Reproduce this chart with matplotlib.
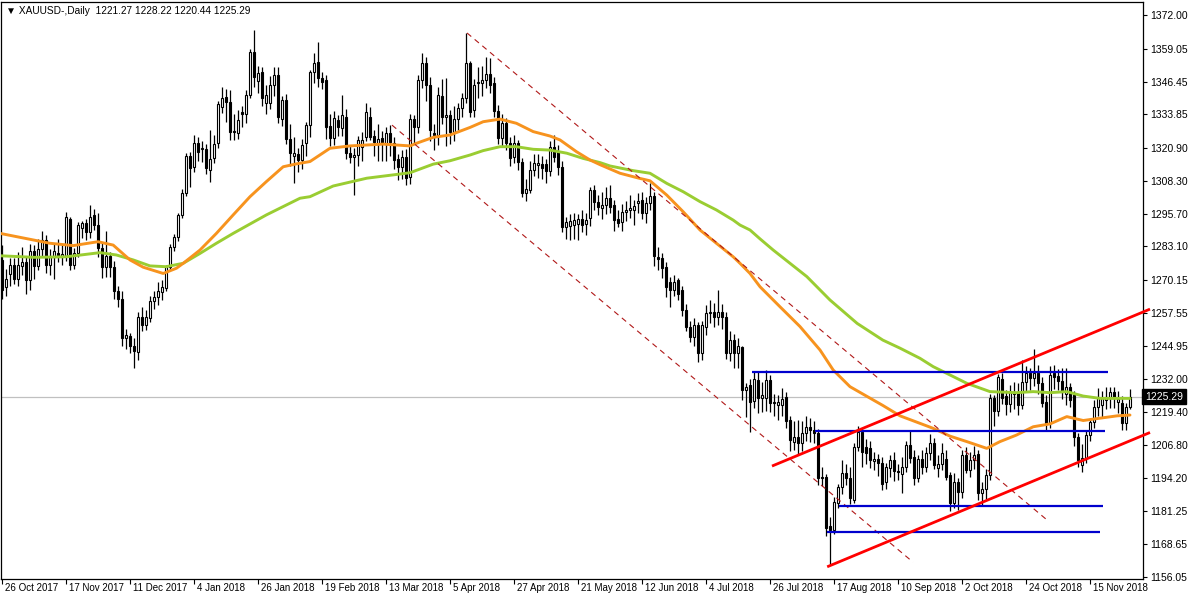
import matplotlib
matplotlib.use("Agg")
import matplotlib.pyplot as plt
import numpy as np

# ---------------- data ----------------
opens = [
1278.0,1267.5,1272.5,1276.0,1270.5,1275.5,1277.0,1270.0,1281.5,1275.5,
1282.0,1285.5,1276.0,1279.0,1280.5,1279.0,1279.0,1293.5,1276.0,1280.5,
1290.0,1292.0,1288.5,1295.0,1291.5,1282.5,1275.0,1279.5,1275.0,1266.0,
1263.0,1248.0,1248.5,1245.0,1242.5,1256.0,1253.0,1255.5,1262.0,1263.5,
1265.5,1267.0,1275.3,1283.0,1286.8,1295.2,1303.5,1317.8,1313.7,1322.9,
1320.6,1320.4,1312.5,1317.0,1322.7,1336.8,1340.4,1338.7,1327.6,1326.8,
1334.6,1333.8,1341.3,1357.9,1346.8,1350.2,1338.1,1338.1,1345.1,1349.0,
1331.9,1339.3,1324.2,1317.8,1318.6,1316.3,1322.7,1329.7,1350.2,1354.0,
1347.7,1347.0,1329.4,1324.6,1331.7,1328.5,1332.7,1318.9,1317.6,1318.2,
1321.4,1325.3,1333.0,1325.5,1322.5,1324.6,1322.5,1326.5,1322.9,1316.5,
1313.7,1317.3,1309.9,1331.9,1328.8,1347.0,1353.4,1345.1,1326.5,1325.9,
1340.9,1333.0,1333.6,1327.2,1332.0,1336.1,1340.0,1353.4,1335.5,1345.7,
1345.7,1347.2,1349.3,1345.7,1335.2,1324.6,1330.4,1322.9,1317.3,1322.9,
1315.7,1303.8,1304.8,1312.5,1314.4,1314.8,1314.8,1312.2,1321.4,1319.5,
1313.7,1290.7,1291.0,1291.3,1291.7,1293.5,1291.7,1293.9,1304.8,1300.3,
1297.7,1299.0,1301.6,1299.0,1293.8,1292.6,1296.4,1297.1,1297.1,1299.7,
1300.9,1295.8,1299.9,1302.5,1278.9,1278.5,1275.3,1269.5,1266.2,1270.0,
1266.3,1258.7,1252.3,1248.1,1252.9,1242.0,1252.3,1257.4,1258.0,1256.1,
1258.0,1256.1,1242.0,1247.1,1242.0,1244.5,1227.9,1229.8,1223.8,1231.8,
1224.7,1225.0,1231.8,1223.4,1222.2,1222.2,1225.1,1216.4,1208.1,1210.0,
1207.5,1211.5,1213.8,1212.6,1211.3,1194.3,1194.6,1175.5,1174.1,1184.4,
1190.8,1196.1,1194.3,1185.7,1206.1,1211.9,1206.0,1205.5,1200.8,1201.3,
1199.8,1192.5,1198.0,1201.0,1196.8,1195.7,1198.5,1206.8,1202.3,1194.0,
1201.5,1198.5,1203.6,1207.4,1198.0,1199.5,1201.3,1195.3,1184.5,1192.5,
1188.9,1203.0,1197.2,1201.0,1203.3,1188.2,1189.8,1195.3,1224.7,1220.0,
1232.0,1225.5,1222.5,1226.5,1227.0,1222.2,1231.1,1234.3,1232.4,1234.6,
1230.5,1223.5,1215.1,1234.3,1233.3,1231.5,1226.5,1229.0,1226.0,1210.0,
1199.0,1201.7,1210.6,1215.8,1221.5,1222.0,1224.0,1225.4,1227.3,1223.5,
1222.8,1215.1,1221.27]
highs = [
1283.5,1274.5,1278.5,1278.5,1281.0,1283.0,1279.5,1284.0,1283.5,1286.0,
1289.0,1287.5,1282.0,1284.0,1286.0,1284.0,1296.5,1294.5,1282.5,1292.5,
1293.0,1293.5,1299.0,1297.5,1296.0,1284.5,1289.0,1281.0,1277.5,1268.0,
1266.0,1251.5,1250.0,1248.0,1258.0,1260.0,1258.5,1264.0,1266.0,1269.5,
1270.0,1276.0,1284.0,1288.0,1296.0,1305.0,1318.9,1319.5,1325.9,1325.0,
1323.5,1322.5,1327.8,1326.0,1339.0,1344.5,1343.5,1343.0,1334.0,1335.5,
1337.0,1343.0,1359.0,1366.2,1352.5,1352.0,1345.0,1348.5,1352.0,1352.0,
1341.0,1341.5,1330.0,1325.0,1321.0,1324.5,1331.0,1351.0,1357.3,1361.8,
1350.0,1349.0,1334.0,1335.0,1333.5,1341.3,1336.0,1321.5,1321.0,1325.5,
1327.0,1338.0,1336.5,1328.0,1330.0,1327.5,1329.0,1329.7,1325.0,1318.5,
1320.0,1320.5,1334.0,1333.5,1349.0,1357.3,1356.0,1348.0,1330.0,1344.5,
1347.5,1347.7,1335.5,1337.0,1338.0,1342.0,1365.2,1354.5,1347.5,1352.0,
1352.5,1356.0,1355.5,1348.0,1337.5,1334.0,1332.5,1325.0,1326.0,1324.0,
1317.0,1309.0,1316.0,1318.5,1318.5,1318.0,1316.5,1323.5,1325.9,1322.0,
1316.0,1294.5,1295.5,1296.0,1295.5,1297.0,1296.0,1306.0,1306.5,1303.0,
1304.0,1306.0,1306.7,1301.0,1297.0,1299.5,1300.5,1303.0,1301.0,1303.5,
1304.0,1302.0,1307.3,1304.0,1283.0,1280.5,1277.0,1271.5,1272.0,1271.0,
1268.0,1261.0,1254.5,1255.5,1254.0,1254.5,1260.5,1262.5,1261.5,1266.3,
1261.0,1258.0,1250.5,1249.5,1248.0,1245.0,1230.5,1232.0,1235.0,1235.0,
1231.0,1235.6,1233.5,1226.5,1226.0,1228.6,1227.0,1218.0,1216.0,1216.5,
1216.0,1218.0,1217.0,1216.0,1213.0,1198.5,1195.5,1179.0,1187.0,1192.0,
1201.0,1199.5,1198.5,1207.5,1214.0,1213.5,1209.0,1208.5,1204.0,1203.5,
1202.0,1200.0,1203.0,1204.0,1199.5,1202.0,1208.5,1212.6,1205.0,1203.0,
1205.0,1206.0,1211.0,1209.5,1203.0,1207.5,1205.0,1196.5,1196.0,1194.0,
1205.0,1206.0,1204.0,1206.5,1205.0,1192.5,1197.5,1226.5,1226.0,1234.0,
1234.5,1228.0,1230.0,1231.0,1230.5,1239.5,1237.0,1236.5,1243.6,1237.5,
1233.0,1226.0,1237.0,1237.5,1236.0,1236.5,1236.3,1230.5,1227.5,1211.5,
1207.0,1212.0,1217.0,1224.0,1228.6,1227.5,1229.0,1229.2,1229.0,1227.5,
1225.5,1223.0,1228.22]
lows = [
1263.0,1264.0,1268.0,1268.5,1268.0,1272.0,1265.0,1266.5,1270.5,1274.0,
1279.0,1273.0,1272.0,1270.5,1277.0,1276.0,1277.5,1274.0,1274.5,1279.0,
1286.5,1285.5,1286.5,1289.5,1279.0,1271.0,1271.5,1271.5,1263.0,1260.0,
1245.0,1243.5,1242.0,1236.5,1239.5,1250.5,1251.0,1254.0,1259.0,1260.5,
1262.5,1266.0,1274.0,1281.5,1285.0,1294.0,1302.5,1306.1,1311.5,1316.0,
1315.5,1311.0,1308.0,1315.0,1321.0,1334.5,1331.0,1324.0,1324.0,1324.5,
1329.0,1330.5,1340.0,1344.5,1342.0,1337.0,1334.0,1336.0,1341.0,1330.5,
1329.5,1322.5,1314.0,1307.3,1311.5,1313.0,1318.0,1325.0,1346.0,1344.5,
1343.5,1324.5,1321.5,1322.0,1325.5,1325.5,1316.5,1315.0,1302.8,1314.0,
1316.0,1323.5,1324.0,1318.0,1316.0,1316.0,1316.0,1318.0,1313.0,1308.5,
1309.0,1306.5,1307.0,1323.0,1326.5,1344.0,1339.0,1323.5,1320.0,1322.0,
1330.0,1321.5,1322.5,1323.5,1328.0,1333.0,1338.0,1333.0,1333.0,1340.0,
1341.0,1344.0,1342.0,1333.0,1322.5,1321.5,1320.0,1314.0,1315.0,1312.5,
1302.0,1300.5,1303.5,1310.0,1309.5,1308.8,1307.5,1310.0,1315.5,1310.5,
1288.5,1286.0,1285.5,1286.0,1285.5,1288.5,1287.5,1291.0,1297.0,1295.0,
1293.5,1295.5,1296.0,1289.0,1290.5,1289.0,1293.0,1294.0,1291.5,1296.0,
1293.5,1292.0,1297.0,1275.5,1274.0,1271.0,1263.5,1260.0,1264.0,1262.5,
1256.5,1250.5,1246.5,1245.0,1238.5,1239.5,1249.0,1253.5,1252.0,1253.0,
1251.5,1240.0,1239.0,1236.5,1236.5,1224.0,1217.5,1211.9,1221.0,1219.0,
1219.5,1220.0,1219.5,1218.0,1216.5,1218.0,1213.5,1204.5,1205.0,1203.5,
1204.5,1208.5,1208.0,1207.5,1191.5,1191.0,1172.0,1161.0,1172.5,1182.5,
1188.0,1191.5,1184.0,1184.5,1204.5,1198.5,1199.5,1198.0,1197.0,1195.0,
1189.5,1190.0,1194.5,1193.0,1193.5,1188.3,1196.5,1200.0,1191.5,1192.5,
1195.5,1196.5,1201.0,1197.5,1194.5,1197.0,1193.5,1181.5,1182.5,1182.0,
1186.5,1196.0,1194.5,1197.5,1185.5,1183.5,1186.0,1193.5,1214.0,1218.0,
1222.5,1218.5,1219.5,1220.5,1218.5,1220.5,1227.5,1228.0,1229.5,1226.5,
1221.5,1212.0,1213.5,1228.5,1228.0,1224.5,1222.0,1221.5,1206.5,1198.5,
1196.6,1200.0,1208.5,1213.5,1218.0,1217.0,1220.5,1221.0,1221.0,1219.0,
1212.5,1212.5,1220.44]
closes = [
1266.3,1270.5,1276.0,1270.5,1276.0,1277.0,1270.0,1281.5,1275.5,1282.0,
1285.5,1276.0,1279.0,1281.5,1279.5,1280.0,1294.5,1276.0,1280.5,1291.5,
1292.0,1288.5,1294.5,1291.5,1282.5,1275.0,1279.5,1275.0,1266.0,1263.0,
1248.0,1249.0,1245.0,1243.0,1256.0,1253.0,1256.0,1262.0,1263.5,1265.8,
1267.6,1275.3,1283.0,1286.8,1295.2,1303.5,1317.8,1313.1,1322.7,1319.5,
1320.9,1313.1,1316.5,1322.4,1337.8,1340.0,1338.4,1327.2,1327.0,1331.7,
1333.8,1341.3,1357.9,1348.3,1349.9,1340.0,1341.3,1345.1,1349.0,1332.9,
1339.3,1324.2,1318.9,1319.1,1316.1,1322.0,1329.7,1350.2,1353.4,1347.7,
1346.4,1329.1,1324.6,1332.3,1329.1,1333.6,1318.9,1317.6,1318.2,1324.0,
1324.0,1334.9,1325.3,1323.3,1324.5,1322.9,1326.5,1323.3,1316.3,1313.7,
1317.3,1309.2,1331.9,1329.1,1347.0,1353.4,1345.1,1327.8,1325.9,1341.3,
1333.0,1333.6,1327.2,1332.0,1336.1,1340.0,1353.4,1334.9,1345.1,1346.4,
1347.2,1349.3,1345.1,1335.2,1324.6,1330.4,1322.9,1316.9,1322.9,1315.7,
1303.8,1305.0,1312.5,1315.0,1315.0,1313.1,1312.2,1321.4,1317.6,1313.7,
1290.7,1292.6,1292.8,1293.2,1293.5,1291.5,1293.2,1304.8,1300.3,1298.1,
1299.0,1301.6,1298.4,1293.2,1292.0,1296.4,1297.1,1297.7,1298.6,1300.7,
1295.8,1299.9,1302.5,1279.4,1278.1,1274.7,1267.6,1266.3,1269.3,1265.0,
1258.7,1252.3,1248.4,1252.9,1242.0,1252.9,1257.4,1258.0,1256.1,1258.0,
1256.1,1242.0,1247.1,1242.0,1245.0,1227.9,1229.2,1223.4,1232.0,1224.7,
1226.0,1231.8,1222.8,1223.0,1223.4,1224.3,1216.1,1208.7,1210.0,1207.5,
1211.5,1213.8,1212.5,1211.5,1194.0,1194.0,1174.8,1174.2,1185.0,1190.8,
1195.9,1194.3,1186.3,1206.1,1211.9,1204.0,1203.6,1201.0,1201.3,1199.8,
1191.8,1198.5,1201.0,1196.8,1196.3,1198.5,1206.8,1201.7,1194.0,1201.5,
1198.5,1203.6,1207.4,1199.3,1199.5,1203.6,1194.6,1184.5,1192.5,1188.9,
1203.0,1197.2,1201.0,1203.0,1188.2,1189.8,1195.3,1224.7,1220.0,1233.1,
1225.0,1222.5,1227.3,1227.0,1222.2,1231.1,1234.3,1232.4,1234.3,1230.5,
1223.1,1215.1,1233.7,1233.0,1231.5,1227.0,1229.0,1224.0,1210.0,1201.0,
1201.7,1210.6,1215.8,1221.5,1224.7,1224.7,1225.4,1227.3,1224.7,1224.5,
1215.1,1221.3,1225.29]

# moving averages (bar index, price)
ma_orange_idx = [-0.5, 12, 17.8, 24, 27.8, 32, 35.3, 40.3, 43.6, 45.3, 49.5, 53.6, 57.8, 62,
                 66.1, 70.3, 73.6, 77, 82, 87, 95.3, 102, 103.6, 107.8, 112, 117, 120.3,
                 124.5, 128.6, 132.8, 137, 139.5, 143.6, 147, 149.5, 154.5, 159.5, 162,
                 166.2, 170.3, 174.5, 178.6, 182.8, 184.5, 187, 189.5, 194.5, 199.5, 204.5,
                 207.8, 212, 217.8, 220.2, 224.5, 232.8, 237, 241.2, 246.2, 249.5, 253.6,
                 257.8, 262, 266.2, 270.3, 274.5, 278.8, 282]
ma_orange_val = [1288.1, 1284.3, 1283.4, 1284.9, 1283.6, 1277.9, 1275.1, 1272.7, 1274.7, 1276.6,
                 1281.7, 1288.1, 1295.2, 1302.2, 1308.0, 1313.7, 1314.8, 1315.7, 1320.8, 1321.7,
                 1322.4, 1321.7, 1322.7, 1325.0, 1325.9, 1328.8, 1331.0, 1332.0, 1330.4, 1327.2,
                 1325.5, 1324.0, 1319.5, 1316.3, 1314.5, 1311.2, 1309.2, 1308.3, 1302.8, 1296.4,
                 1289.4, 1284.3, 1279.1, 1276.6, 1272.7, 1267.6, 1259.9, 1252.3, 1243.3, 1235.6,
                 1229.2, 1224.1, 1222.0, 1218.0, 1213.2, 1210.2, 1208.1, 1205.5, 1208.1, 1210.6,
                 1213.8, 1214.9, 1217.7, 1216.2, 1217.1, 1218.0, 1218.3]
ma_green_idx = [-0.5, 8, 16, 24.5, 28.6, 32.8, 37, 41, 45.3, 49.5, 53.6, 57.8, 62, 66.1, 70.3,
                74.5, 77, 82.8, 91.2, 99.5, 102, 107.8, 112, 117, 120.3, 124.5, 128.6, 132.8,
                137, 141.2, 145.3, 149.5, 152, 157.8, 162, 166.2, 170.3, 174.5, 178.6, 182.8,
                184.5, 187, 189.5, 192.8, 201.2, 207, 213.8, 220.2, 224.5, 229.5, 232.8, 241.2,
                247, 253.6, 257.8, 262, 266.2, 270.3, 274.5, 282]
ma_green_val = [1279.5, 1278.9, 1279.1, 1280.7, 1279.8, 1277.9, 1275.6, 1275.3, 1276.6, 1280.4,
                1284.3, 1288.1, 1291.7, 1295.2, 1298.4, 1301.6, 1302.2, 1306.3, 1309.3, 1310.9,
                1311.4, 1314.7, 1316.0, 1318.2, 1319.9, 1321.4, 1321.4, 1320.4, 1320.1, 1318.9,
                1316.9, 1315.3, 1314.0, 1312.2, 1311.2, 1307.3, 1304.1, 1300.3, 1297.1, 1293.2,
                1291.3, 1289.4, 1286.0, 1281.7, 1271.5, 1262.5, 1253.5, 1247.1, 1244.0, 1240.1,
                1236.9, 1230.5, 1227.3, 1226.9, 1227.3, 1226.9, 1227.3, 1225.6, 1224.7, 1224.7]

# horizontal levels (price, start bar, end bar)
level_prices = [1235.0, 1212.3, 1183.5, 1173.5]
level_starts = [187.5, 203.25, 209.25, 206.25]
level_ends = [276.5, 275.75, 275.25, 274.5]
# rising channel (red) : two parallel lines
up_line_x = [192.5, 287.0]
up_line_y = [1198.7, 1259.0]
low_line_x = [206.3, 287.0]
low_line_y = [1160.0, 1211.6]
# falling channel (dashed dark red)
dash1_x = [116.25, 261.25]
dash1_y = [1365.1, 1178.0]
dash2_x = [97.5, 227.75]
dash2_y = [1329.7, 1161.8]

bid_price = 1225.29
ytick_vals = [1372.00, 1359.05, 1346.45, 1333.85, 1320.90, 1308.30, 1295.70, 1283.10, 1270.15,
              1257.55, 1244.95, 1232.00, 1219.40, 1206.80, 1194.20, 1181.25, 1168.65, 1156.05]
date_labels = ["26 Oct 2017", "17 Nov 2017", "11 Dec 2017", "4 Jan 2018", "26 Jan 2018",
               "19 Feb 2018", "13 Mar 2018", "5 Apr 2018", "27 Apr 2018", "21 May 2018",
               "12 Jun 2018", "4 Jul 2018", "26 Jul 2018", "17 Aug 2018", "10 Sep 2018",
               "2 Oct 2018", "24 Oct 2018", "15 Nov 2018"]
date_label_step = 16
header = "\u25BC XAUUSD-,Daily  1221.27 1228.22 1220.44 1225.29"

# ---------------- drawing ----------------
FONT = ['Liberation Sans', 'DejaVu Sans']
plt.rcParams['font.family'] = FONT

W, H = 1200, 600
fig = plt.figure(figsize=(12, 6), dpi=100)
fig.patch.set_facecolor('white')
px_l, px_r, px_t, px_b = 1, 1143, 2, 579
ax = fig.add_axes([px_l / W, 1 - px_b / H, (px_r - px_l) / W, (px_b - px_t) / H])
ax.set_facecolor('white')

n = len(closes)
x = np.arange(n)
o = np.array(opens); h = np.array(highs); l = np.array(lows); c = np.array(closes)

ax.set_xlim((px_l - 2) / 4.0, (px_r - 2) / 4.0)
ax.set_ylim(1372 - (px_b - 15) * 0.3842, 1372 - (px_t - 15) * 0.3842)

# bid line
ax.axhline(bid_price, color='#C0C0C0', lw=0.9, zorder=1)

# candles
ax.vlines(x, l, h, color='black', lw=0.9, zorder=2)
bull = c >= o
body_bottom = np.minimum(o, c)
body_h = np.maximum(np.abs(c - o), 0.35)
ax.bar(x[bull], body_h[bull], bottom=body_bottom[bull], width=0.5, facecolor='white',
       edgecolor='black', linewidth=0.8, zorder=3)
ax.bar(x[~bull], body_h[~bull], bottom=body_bottom[~bull], width=0.5, facecolor='black',
       edgecolor='black', linewidth=0.8, zorder=3)

# moving averages
ax.plot(ma_green_idx, ma_green_val, color='#9ACD32', lw=2.1, zorder=4, solid_capstyle='round')
ax.plot(ma_orange_idx, ma_orange_val, color='#F7931E', lw=2.1, zorder=4, solid_capstyle='round')

# falling dashed channel
for xs, ys in ((dash1_x, dash1_y), (dash2_x, dash2_y)):
    ax.plot(xs, ys, color='#B01818', lw=0.8, dashes=(5, 4), zorder=5)

# horizontal levels
for p, s, e in zip(level_prices, level_starts, level_ends):
    ax.plot([s, e], [p, p], color='#0000CD', lw=1.6, zorder=6, solid_capstyle='butt')

# rising channel
for xs, ys in ((up_line_x, up_line_y), (low_line_x, low_line_y)):
    ax.plot(xs, ys, color='#FF0000', lw=2.0, zorder=7, clip_on=False, solid_capstyle='butt')

# axes styling
for sp in ax.spines.values():
    sp.set_color('black')
    sp.set_linewidth(0.9)
ax.yaxis.tick_right()
ax.set_yticks(ytick_vals)
ax.set_yticklabels(["%.2f" % v for v in ytick_vals], fontsize=7.5)
ax.tick_params(axis='y', direction='out', length=3, width=0.8, pad=2, colors='black')
tick_idx = [i * date_label_step for i in range(len(date_labels))]
ax.set_xticks(tick_idx)
ax.set_xticklabels([''] * len(tick_idx))
ax.tick_params(axis='x', direction='out', length=3.5, width=0.8, colors='black')
for ti, lab in zip(tick_idx, date_labels):
    ax.annotate(lab, xy=(ti, 0), xycoords=('data', 'axes fraction'), xytext=(2, -3),
                textcoords='offset points', ha='left', va='top', fontsize=7,
                annotation_clip=False)

# header
ax.text(0.004, 0.993, header, transform=ax.transAxes, ha='left', va='top', fontsize=7.3,
        family=FONT)

# bid price box
ax.annotate("%.2f" % bid_price, xy=(1.0, bid_price), xycoords=('axes fraction', 'data'),
            xytext=(1.5, 0), textcoords='offset points', ha='left', va='center', fontsize=7.5,
            color='white', annotation_clip=False,
            bbox=dict(boxstyle='square,pad=0.25', facecolor='black', edgecolor='black'))

fig.savefig('out.png', dpi=100, facecolor='white')
